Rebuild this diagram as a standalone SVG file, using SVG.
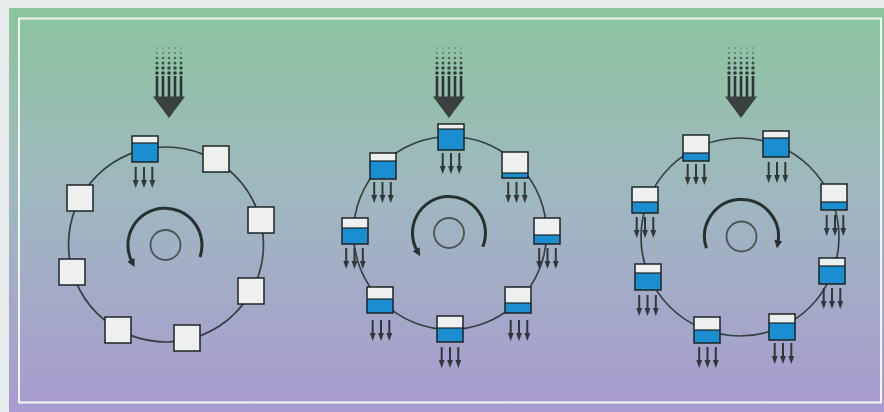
<svg xmlns="http://www.w3.org/2000/svg" xmlns:xlink="http://www.w3.org/1999/xlink" width="884" height="412" viewBox="0 0 884 412">
  <defs>
    <linearGradient id="bg" x1="0" y1="0" x2="0" y2="1">
      <stop offset="0" stop-color="#8cc59e"/>
      <stop offset="0.45" stop-color="#9fb8bf"/>
      <stop offset="1" stop-color="#a99bd0"/>
    </linearGradient>
    <marker id="ah" viewBox="0 0 10 10" refX="3" refY="5" markerWidth="10" markerHeight="8" markerUnits="userSpaceOnUse" orient="auto">
      <path d="M0,0 L10,5 L0,10 z" fill="#27302f"/>
    </marker>
    <g id="trio">
      <line x1="-8.3" y1="0" x2="-8.3" y2="15" class="sh"/>
      <line x1="0" y1="0" x2="0" y2="15" class="sh"/>
      <line x1="8.3" y1="0" x2="8.3" y2="15" class="sh"/>
      <polygon points="-11.2,13 -5.4,13 -8.3,21" class="hd"/>
      <polygon points="-2.9,13 2.9,13 0,21" class="hd"/>
      <polygon points="5.4,13 11.2,13 8.3,21" class="hd"/>
    </g>
    <g id="feed">
      <g fill="#2e3434">
        <circle cx="-12" cy="48" r="0.9" opacity="0.35"/><circle cx="-6" cy="48" r="0.9" opacity="0.35"/><circle cx="0" cy="48" r="0.9" opacity="0.35"/><circle cx="6" cy="48" r="0.9" opacity="0.35"/><circle cx="12" cy="48" r="0.9" opacity="0.35"/>
        <circle cx="-12" cy="53" r="1.1" opacity="0.5"/><circle cx="-6" cy="53" r="1.1" opacity="0.5"/><circle cx="0" cy="53" r="1.1" opacity="0.5"/><circle cx="6" cy="53" r="1.1" opacity="0.5"/><circle cx="12" cy="53" r="1.1" opacity="0.5"/>
        <circle cx="-12" cy="58" r="1.3" opacity="0.65"/><circle cx="-6" cy="58" r="1.3" opacity="0.65"/><circle cx="0" cy="58" r="1.3" opacity="0.65"/><circle cx="6" cy="58" r="1.3" opacity="0.65"/><circle cx="12" cy="58" r="1.3" opacity="0.65"/>
        <circle cx="-12" cy="63" r="1.5" opacity="0.8"/><circle cx="-6" cy="63" r="1.5" opacity="0.8"/><circle cx="0" cy="63" r="1.5" opacity="0.8"/><circle cx="6" cy="63" r="1.5" opacity="0.8"/><circle cx="12" cy="63" r="1.5" opacity="0.8"/>
        <circle cx="-12" cy="68" r="1.7" opacity="0.9"/><circle cx="-6" cy="68" r="1.7" opacity="0.9"/><circle cx="0" cy="68" r="1.7" opacity="0.9"/><circle cx="6" cy="68" r="1.7" opacity="0.9"/><circle cx="12" cy="68" r="1.7" opacity="0.9"/>
        <circle cx="-12" cy="73" r="1.8"/><circle cx="-6" cy="73" r="1.8"/><circle cx="0" cy="73" r="1.8"/><circle cx="6" cy="73" r="1.8"/><circle cx="12" cy="73" r="1.8"/>
      </g>
      <g stroke="#2e3434" stroke-width="2.6">
        <line x1="-12" y1="76" x2="-12" y2="98"/><line x1="-6" y1="76" x2="-6" y2="98"/><line x1="0" y1="76" x2="0" y2="98"/><line x1="6" y1="76" x2="6" y2="98"/><line x1="12" y1="76" x2="12" y2="98"/>
      </g>
      <polygon points="-16,96.5 16,96.5 0,118" fill="#3a403f"/>
    </g>
  </defs>
  <style>
    .ring { fill: none; stroke: #354040; stroke-width: 1.7; }
    .hub { fill: none; stroke: #4a5454; stroke-width: 1.8; }
    .rot { fill: none; stroke: #27302f; stroke-width: 3; marker-end: url(#ah); }
    .sh { stroke: #2f3738; stroke-width: 2; }
    .hd { fill: #2f3738; }
    .w { fill: #eef0ef; }
    .b { fill: #1a8ed0; }
    .d { stroke: #1c2424; stroke-width: 1.2; }
    .o { fill: none; stroke: #1c2424; stroke-width: 1.5; }
  </style>

  <!-- background and frame -->
  <rect x="0" y="0" width="884" height="412" fill="#e7ebec"/>
  <rect x="9" y="8" width="875" height="404" fill="url(#bg)"/>
  <rect x="19" y="18.5" width="862" height="384" fill="none" stroke="#f3f6ee" stroke-width="2"/>

  <!-- rings and hubs -->
  <g id="rings">
    <circle class="ring" cx="166" cy="244.5" r="97.5"/>
    <circle class="ring" cx="450" cy="233" r="96.5"/>
    <circle class="ring" cx="740" cy="237" r="99"/>
    <circle class="hub" cx="165.5" cy="245" r="15"/>
    <circle class="hub" cx="449" cy="233" r="15"/>
    <circle class="hub" cx="741.5" cy="236.5" r="15"/>
  </g>

  <!-- connectors -->
  <g id="connectors">
    <use xlink:href="#feed" href="#feed" x="169" y="0"/>
    <use xlink:href="#feed" href="#feed" x="449" y="0"/>
    <use xlink:href="#feed" href="#feed" x="741" y="0"/>
    <path class="rot" d="M200,257 A37,37 0 1 0 132,262"/>
    <path class="rot" d="M482.8,246.7 A36.5,36.5 0 1 0 417.4,251.3"/>
    <path class="rot" d="M706.4,248.2 A37,37 0 1 1 777.9,242.9"/>
    <use xlink:href="#trio" href="#trio" x="144" y="167"/>
    <use xlink:href="#trio" href="#trio" x="451" y="153"/>
    <use xlink:href="#trio" href="#trio" x="516.5" y="182"/>
    <use xlink:href="#trio" href="#trio" x="547.5" y="248"/>
    <use xlink:href="#trio" href="#trio" x="519" y="320"/>
    <use xlink:href="#trio" href="#trio" x="450" y="347"/>
    <use xlink:href="#trio" href="#trio" x="381" y="320"/>
    <use xlink:href="#trio" href="#trio" x="354.5" y="248"/>
    <use xlink:href="#trio" href="#trio" x="382.5" y="182"/>
    <use xlink:href="#trio" href="#trio" x="696" y="164"/>
    <use xlink:href="#trio" href="#trio" x="777" y="162"/>
    <use xlink:href="#trio" href="#trio" x="835" y="215"/>
    <use xlink:href="#trio" href="#trio" x="832" y="288"/>
    <use xlink:href="#trio" href="#trio" x="783" y="343"/>
    <use xlink:href="#trio" href="#trio" x="707.5" y="347"/>
    <use xlink:href="#trio" href="#trio" x="647.5" y="295"/>
    <use xlink:href="#trio" href="#trio" x="645" y="217"/>
  </g>

  <!-- carousel 1 -->
  <g id="c1-b1" transform="translate(132,136)"><rect class="w" width="26" height="26"/><rect class="b" y="7" width="26" height="19"/><line class="d" x1="0" y1="7" x2="26" y2="7"/><rect class="o" width="26" height="26"/></g>
  <g id="c1-b2" transform="translate(203,146)"><rect class="w" width="26" height="26"/><rect class="o" width="26" height="26"/></g>
  <g id="c1-b3" transform="translate(248,207)"><rect class="w" width="26" height="26"/><rect class="o" width="26" height="26"/></g>
  <g id="c1-b4" transform="translate(238,278)"><rect class="w" width="26" height="26"/><rect class="o" width="26" height="26"/></g>
  <g id="c1-b5" transform="translate(174,325)"><rect class="w" width="26" height="26"/><rect class="o" width="26" height="26"/></g>
  <g id="c1-b6" transform="translate(105,317)"><rect class="w" width="26" height="26"/><rect class="o" width="26" height="26"/></g>
  <g id="c1-b7" transform="translate(59,259)"><rect class="w" width="26" height="26"/><rect class="o" width="26" height="26"/></g>
  <g id="c1-b8" transform="translate(67,185)"><rect class="w" width="26" height="26"/><rect class="o" width="26" height="26"/></g>

  <!-- carousel 2 -->
  <g id="c2-b1" transform="translate(438,124)"><rect class="w" width="26" height="26"/><rect class="b" y="5" width="26" height="21"/><line class="d" x1="0" y1="5" x2="26" y2="5"/><rect class="o" width="26" height="26"/></g>
  <g id="c2-b2" transform="translate(502,152)"><rect class="w" width="26" height="26"/><rect class="b" y="21" width="26" height="5"/><line class="d" x1="0" y1="21" x2="26" y2="21"/><rect class="o" width="26" height="26"/></g>
  <g id="c2-b3" transform="translate(534,218)"><rect class="w" width="26" height="26"/><rect class="b" y="17" width="26" height="9"/><line class="d" x1="0" y1="17" x2="26" y2="17"/><rect class="o" width="26" height="26"/></g>
  <g id="c2-b4" transform="translate(505,287)"><rect class="w" width="26" height="26"/><rect class="b" y="16" width="26" height="10"/><line class="d" x1="0" y1="16" x2="26" y2="16"/><rect class="o" width="26" height="26"/></g>
  <g id="c2-b5" transform="translate(437,316)"><rect class="w" width="26" height="26"/><rect class="b" y="12" width="26" height="14"/><line class="d" x1="0" y1="12" x2="26" y2="12"/><rect class="o" width="26" height="26"/></g>
  <g id="c2-b6" transform="translate(367,287)"><rect class="w" width="26" height="26"/><rect class="b" y="12" width="26" height="14"/><line class="d" x1="0" y1="12" x2="26" y2="12"/><rect class="o" width="26" height="26"/></g>
  <g id="c2-b7" transform="translate(342,218)"><rect class="w" width="26" height="26"/><rect class="b" y="10" width="26" height="16"/><line class="d" x1="0" y1="10" x2="26" y2="10"/><rect class="o" width="26" height="26"/></g>
  <g id="c2-b8" transform="translate(370,153)"><rect class="w" width="26" height="26"/><rect class="b" y="8" width="26" height="18"/><line class="d" x1="0" y1="8" x2="26" y2="8"/><rect class="o" width="26" height="26"/></g>

  <!-- carousel 3 -->
  <g id="c3-b1" transform="translate(683,135)"><rect class="w" width="26" height="26"/><rect class="b" y="18" width="26" height="8"/><line class="d" x1="0" y1="18" x2="26" y2="18"/><rect class="o" width="26" height="26"/></g>
  <g id="c3-b2" transform="translate(763,131)"><rect class="w" width="26" height="26"/><rect class="b" y="7" width="26" height="19"/><line class="d" x1="0" y1="7" x2="26" y2="7"/><rect class="o" width="26" height="26"/></g>
  <g id="c3-b3" transform="translate(821,184)"><rect class="w" width="26" height="26"/><rect class="b" y="18" width="26" height="8"/><line class="d" x1="0" y1="18" x2="26" y2="18"/><rect class="o" width="26" height="26"/></g>
  <g id="c3-b4" transform="translate(819,258)"><rect class="w" width="26" height="26"/><rect class="b" y="8" width="26" height="18"/><line class="d" x1="0" y1="8" x2="26" y2="8"/><rect class="o" width="26" height="26"/></g>
  <g id="c3-b5" transform="translate(769,314)"><rect class="w" width="26" height="26"/><rect class="b" y="9" width="26" height="17"/><line class="d" x1="0" y1="9" x2="26" y2="9"/><rect class="o" width="26" height="26"/></g>
  <g id="c3-b6" transform="translate(694,317)"><rect class="w" width="26" height="26"/><rect class="b" y="13" width="26" height="13"/><line class="d" x1="0" y1="13" x2="26" y2="13"/><rect class="o" width="26" height="26"/></g>
  <g id="c3-b7" transform="translate(635,264)"><rect class="w" width="26" height="26"/><rect class="b" y="9" width="26" height="17"/><line class="d" x1="0" y1="9" x2="26" y2="9"/><rect class="o" width="26" height="26"/></g>
  <g id="c3-b8" transform="translate(632,187)"><rect class="w" width="26" height="26"/><rect class="b" y="15" width="26" height="11"/><line class="d" x1="0" y1="15" x2="26" y2="15"/><rect class="o" width="26" height="26"/></g>
</svg>
